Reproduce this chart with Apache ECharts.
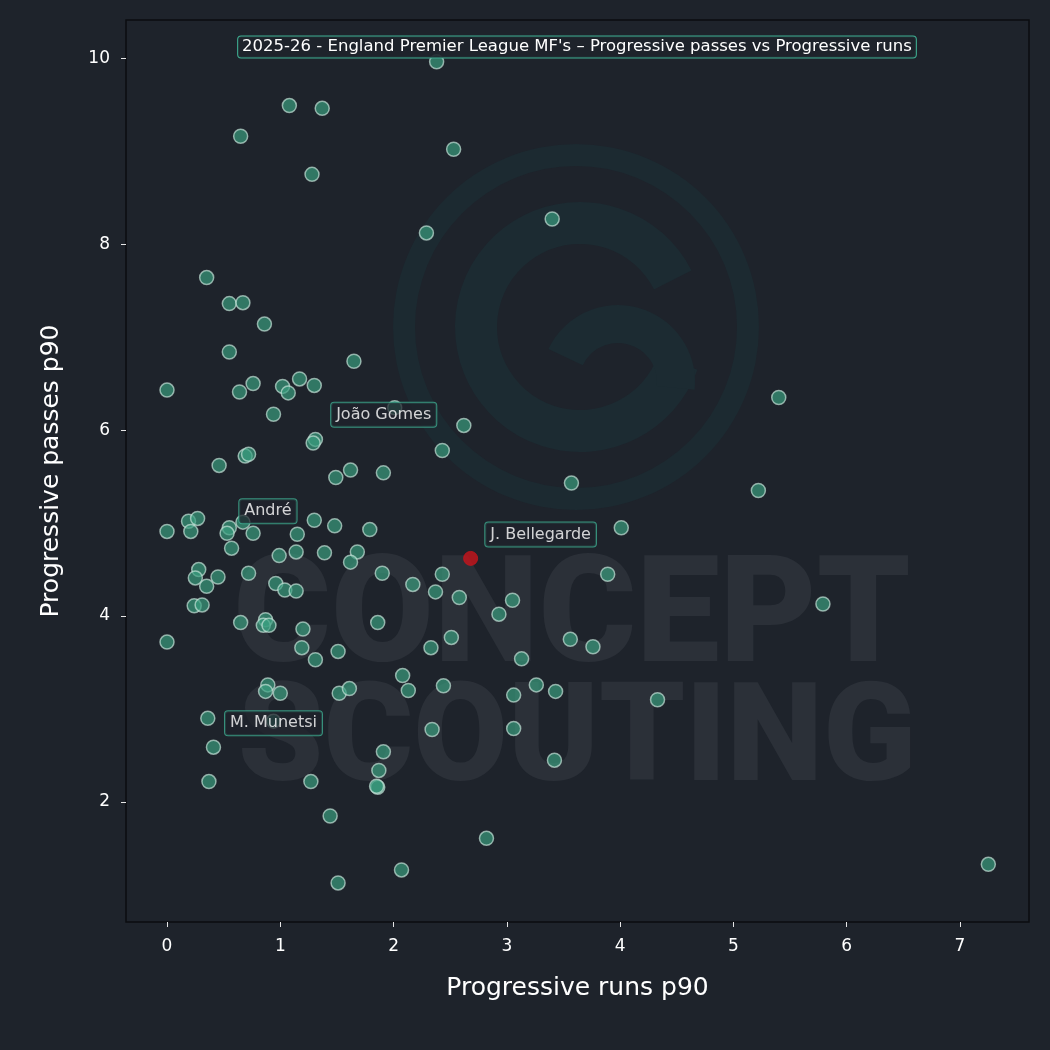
<!DOCTYPE html>
<html>
<head>
<meta charset="utf-8">
<script src="https://cdn.jsdelivr.net/npm/echarts@6/dist/echarts.min.js"></script>
<style>
html,body{margin:0;padding:0;background:#1e232b;}
#chart{width:1050px;height:1050px;}
</style>
</head>
<body>
<div id="chart"></div>
<script>
// ---- Data ----
const chartTitle = "2025-26 - England Premier League MF's – Progressive passes vs Progressive runs";
const xAxisName = "Progressive runs p90";
const yAxisName = "Progressive passes p90";
const xTicks = [0, 1, 2, 3, 4, 5, 6, 7];
const yTicks = [2, 4, 6, 8, 10];

const runs = [
  2.38, 1.08, 1.37, 0.65, 2.53, 1.28, 3.40, 2.29, 0.35, 0.55,
  0.67, 0.86, 0.55, 1.65, 0.00, 0.76, 0.64, 1.02, 1.07, 1.17,
  1.30, 5.40, 0.94, 2.62, 1.31, 1.29, 2.43, 0.46, 0.69, 0.72,
  1.62, 1.49, 1.91, 3.57, 5.22, 0.00, 0.19, 0.27, 0.21, 0.55,
  0.53, 0.76, 0.57, 1.15, 1.30, 1.48, 1.79, 4.01, 0.99, 1.14,
  1.39, 1.68, 1.62, 0.28, 0.25, 0.45, 0.35, 0.72, 0.96, 1.04,
  1.14, 1.90, 2.17, 2.37, 2.43, 2.58, 3.05, 2.93, 3.89, 5.79,
  0.24, 0.31, 0.87, 0.65, 0.85, 0.90, 1.20, 1.86, 0.00, 1.19,
  1.31, 1.51, 2.33, 2.51, 3.13, 3.56, 3.76, 2.08, 0.89, 0.87,
  1.00, 1.52, 1.61, 2.13, 2.44, 3.06, 3.26, 3.43, 4.33, 0.36,
  2.34, 3.06, 0.41, 1.91, 3.42, 0.37, 1.27, 1.87, 1.86, 1.85,
  1.44, 2.82, 2.07, 1.51, 7.25
];
const passes = [
  9.96, 9.49, 9.46, 9.16, 9.02, 8.75, 8.27, 8.12, 7.64, 7.36,
  7.37, 7.14, 6.84, 6.74, 6.43, 6.50, 6.41, 6.47, 6.40, 6.55,
  6.48, 6.35, 6.17, 6.05, 5.90, 5.86, 5.78, 5.62, 5.72, 5.74,
  5.57, 5.49, 5.54, 5.43, 5.35, 4.91, 5.02, 5.05, 4.91, 4.95,
  4.89, 4.89, 4.73, 4.88, 5.03, 4.97, 4.93, 4.95, 4.65, 4.69,
  4.68, 4.69, 4.58, 4.50, 4.41, 4.42, 4.32, 4.46, 4.35, 4.28,
  4.27, 4.46, 4.34, 4.26, 4.45, 4.20, 4.17, 4.02, 4.45, 4.13,
  4.11, 4.12, 3.96, 3.93, 3.90, 3.90, 3.86, 3.93, 3.72, 3.66,
  3.53, 3.62, 3.66, 3.77, 3.54, 3.75, 3.67, 3.36, 3.26, 3.19,
  3.17, 3.17, 3.22, 3.20, 3.25, 3.15, 3.26, 3.19, 3.10, 2.90,
  2.78, 2.79, 2.59, 2.54, 2.45, 2.22, 2.22, 2.34, 2.16, 2.17,
  1.85, 1.61, 1.27, 1.13, 1.33
];

const labelledNames  = ["João Gomes", "André", "M. Munetsi"];
const labelledRuns   = [2.01, 0.67, 0.94];
const labelledPasses = [6.24, 5.01, 2.87];

const focusName   = "J. Bellegarde";
const focusRuns   = [2.68];
const focusPasses = [4.62];

// ---- Styling (not data) ----
const FONT = "'DejaVu Sans', 'Noto Sans', sans-serif";
const labelOffsets = { "João Gomes": [-11, 7], "André": [25, -11], "M. Munetsi": [0, 2], "J. Bellegarde": [70, -24] };
const labelBox = {
  show: true, position: 'inside', color: '#ffffff', fontSize: 16, fontFamily: FONT,
  backgroundColor: 'rgba(30,35,43,0.9)', borderColor: '#3fae92', borderWidth: 1,
  borderRadius: 3, padding: [4, 5]
};

const mainData = runs.map((r, i) => [r, passes[i]]);
const labelledData = labelledNames.map((n, i) => ({
  name: n, value: [labelledRuns[i], labelledPasses[i]],
  label: Object.assign({}, labelBox, { formatter: n, offset: labelOffsets[n] })
}));
const focusData = focusRuns.map((r, i) => ({
  name: focusName, value: [r, focusPasses[i]],
  label: Object.assign({}, labelBox, { formatter: focusName, offset: labelOffsets[focusName] })
}));

const chart = echarts.init(document.getElementById('chart'), null, { renderer: 'canvas' });

const pointStyle = { color: 'rgba(58,158,128,0.85)', borderColor: 'rgba(200,228,218,0.85)', borderWidth: 1.5 };

chart.setOption({
  backgroundColor: '#1e232b',
  animation: false,
  grid: { left: 126, right: 21, top: 20, bottom: 128, show: true, borderColor: '#0b0d10', borderWidth: 1.5, backgroundColor: 'transparent' },
  xAxis: {
    type: 'value', min: -0.362, max: 7.609, interval: 1,
    name: xAxisName, nameLocation: 'middle', nameGap: 54,
    nameTextStyle: { color: '#ffffff', fontSize: 25, fontFamily: FONT },
    axisLine: { show: false, onZero: false },
    axisTick: { show: true, inside: false, length: 5, lineStyle: { color: '#e6e6e6' }, customValues: xTicks },
    axisLabel: { color: '#ffffff', fontSize: 17, fontFamily: FONT, margin: 16, customValues: xTicks },
    splitLine: { show: false }
  },
  yAxis: {
    type: 'value', min: 0.71, max: 10.41, interval: 2,
    name: yAxisName, nameLocation: 'middle', nameGap: 62, nameRotate: 90,
    nameTextStyle: { color: '#ffffff', fontSize: 25, fontFamily: FONT },
    axisLine: { show: false, onZero: false },
    axisTick: { show: true, length: 5, lineStyle: { color: '#e6e6e6' }, customValues: yTicks },
    axisLabel: { color: '#ffffff', fontSize: 17, fontFamily: FONT, margin: 16, customValues: yTicks },
    splitLine: { show: false }
  },
  graphic: [
    { type: 'ring', z: -10, silent: true, shape: { cx: 576, cy: 327, r: 183, r0: 161 }, style: { fill: '#1c2a31' } },
    { type: 'arc', z: -10, silent: true, shape: { cx: 580, cy: 327, r: 104, startAngle: -0.47, endAngle: 0.35, clockwise: false },
      style: { stroke: '#1c2b32', lineWidth: 42, fill: null } },
    { type: 'arc', z: -10, silent: true, shape: { cx: 618, cy: 382, r: 58, startAngle: -2.7, endAngle: 0.1, clockwise: true },
      style: { stroke: '#1c2b32', lineWidth: 38, fill: null } },
    { type: 'text', z: -9, silent: true, x: 572, y: 549,
      style: { text: 'CONCEPT', fill: '#2b3038', font: "900 149px Roboto, 'Open Sans', sans-serif", align: 'center', verticalAlign: 'top' } },
    { type: 'text', z: -9, silent: true, x: 577, y: 677,
      style: { text: 'SCOUTING', fill: '#2b3038', font: "900 137px Roboto, 'Open Sans', sans-serif", align: 'center', verticalAlign: 'top' } },
    { type: 'text', z: 100, x: 577, y: 47,
      style: { text: chartTitle, fill: '#ffffff', font: "16.5px " + FONT, align: 'center', verticalAlign: 'middle',
        backgroundColor: 'rgba(30,35,43,0.9)', borderColor: '#3fae92', borderWidth: 1, borderRadius: 3, padding: [2, 4] } }
  ],
  series: [
    { type: 'scatter', data: mainData, symbolSize: 14, itemStyle: pointStyle, z: 2 },
    { type: 'scatter', data: labelledData, symbolSize: 14, itemStyle: pointStyle, z: 5 },
    { type: 'scatter', data: focusData, symbolSize: 14, itemStyle: { color: '#c8141c', borderColor: '#c8141c', borderWidth: 1 }, z: 6 }
  ]
});
</script>
</body>
</html>
